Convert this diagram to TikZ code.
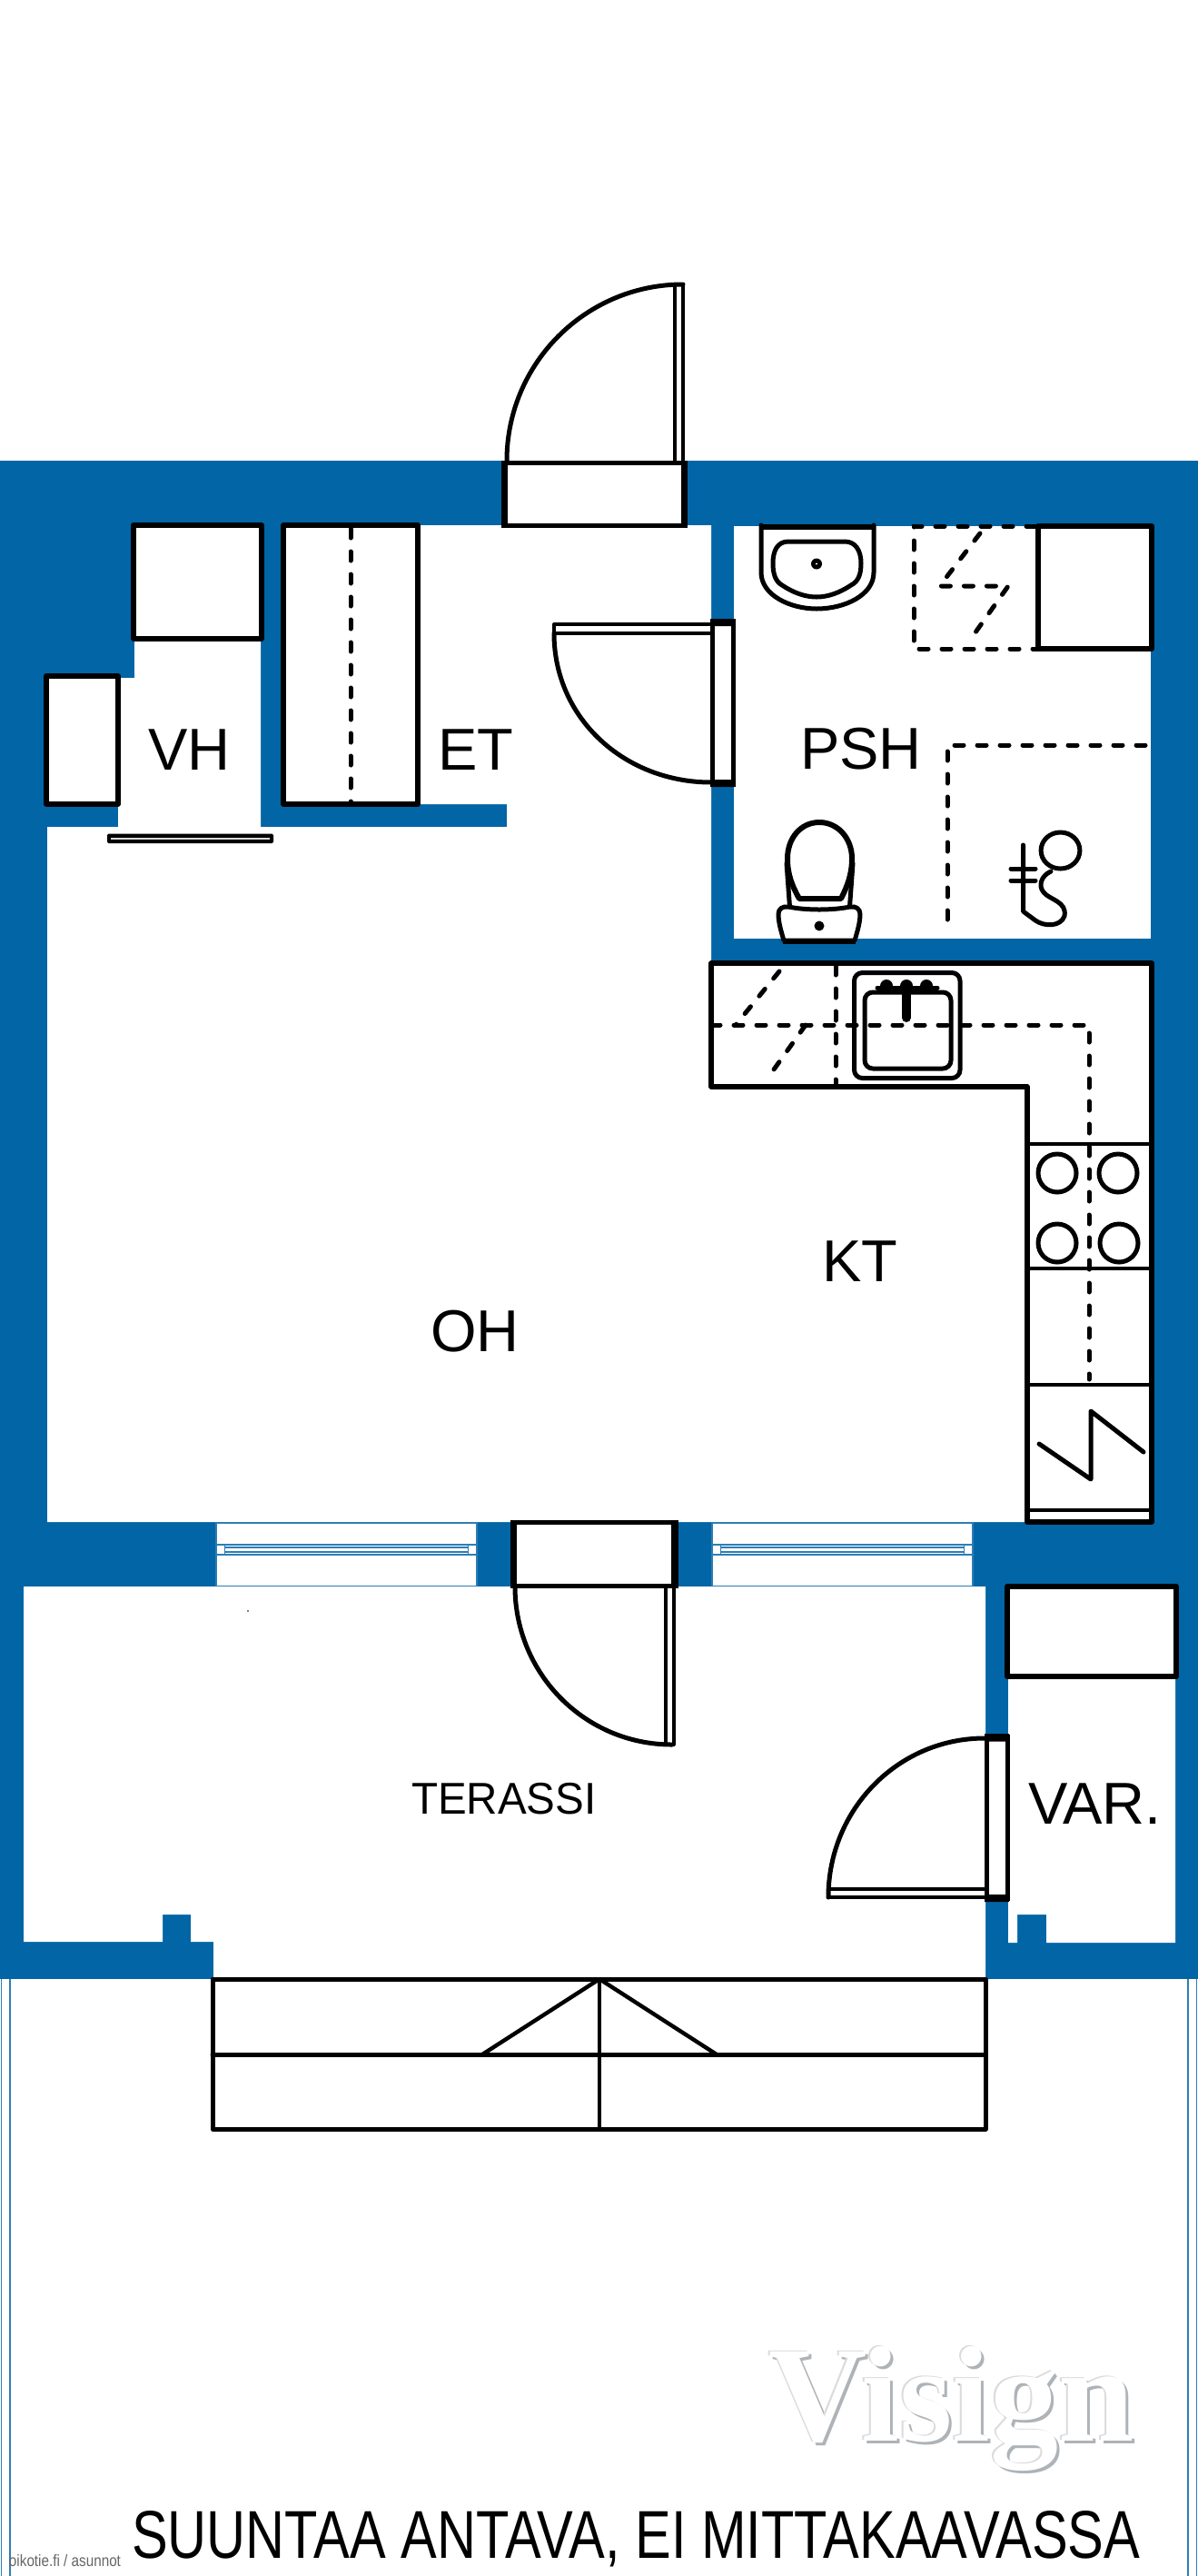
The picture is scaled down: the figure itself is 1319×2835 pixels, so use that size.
\documentclass[tikz,border=0pt]{standalone}
\usepackage{fontspec}
\usepackage{graphicx}
\setmainfont{Liberation Sans}
\newfontfamily\serifvis{Liberation Serif}
\definecolor{wallblue}{HTML}{0265A6}
\definecolor{thinblue}{HTML}{2E7DB5}
\definecolor{shadowgray}{HTML}{AEB3B8}
\tikzset{
  wallfill/.style={fill=wallblue,draw=none},
  room/.style={fill=white,draw=none},
  ln/.style={draw=black,line width=5pt,line cap=round,line join=round},
  lnthin/.style={draw=black,line width=4pt,line cap=round,line join=round},
  dsh/.style={draw=black,line width=5pt,line cap=round,dash pattern=on 10pt off 15pt},
  box/.style={draw=black,fill=white,line width=5.2pt,line join=round},
  jamb/.style={draw=black,line width=7.5pt},
  lbl/.style={anchor=base west,inner sep=0pt,outer sep=0pt,text=black},
  winline/.style={draw=thinblue,line width=1.3pt},
}
\newcommand{\roomfont}{\fontsize{65}{70}\selectfont}
\begin{document}
\begin{tikzpicture}[x=1pt,y=-1pt]
\useasboundingbox (0,0) rectangle (1319,2835);
\fill[white] (0,0) rectangle (1319,2835);
% walls
\path[wallfill] (0,507) rectangle (1319,2178);
% main room
\path[room] (460,578) -- (783,578) -- (783,1060) -- (1268,1060) -- (1268,1675) -- (52,1675) -- (52,910) -- (130,910) -- (130,746) -- (148,746) -- (148,578) -- (287,578) -- (287,910) -- (558,910) -- (558,885) -- (460,885) -- cycle;
% bathroom
\path[room] (808,579) rectangle (1267,1033);
% terrace
\path[room] (26,1746) -- (1085,1746) -- (1085,2178) -- (235,2178) -- (235,2137) -- (210,2137) -- (210,2107) -- (179,2107) -- (179,2137) -- (26,2137) -- cycle;
% storage
\path[room] (1110,1745) -- (1294,1745) -- (1294,2138) -- (1152,2138) -- (1152,2107) -- (1120,2107) -- (1120,2138) -- (1110,2138) -- cycle;
% thin outer lines
\draw[winline] (1.5,2178) -- (1.5,2835) (11,2178) -- (11,2835) (1308,2178) -- (1308,2835) (1317.5,2178) -- (1317.5,2835);
% windows
\foreach \xa/\xb in {238/525,784/1071}{
  \path[fill=white,draw=thinblue,line width=1.3pt] (\xa,1676) rectangle (\xb,1745.5);
  \draw[winline] (\xa,1700) -- (\xb,1700) (\xa,1711) -- (\xb,1711);
  \draw[winline] (\xa+9.5,1700) -- (\xa+9.5,1711) (\xb-9.5,1700) -- (\xb-9.5,1711);
  \draw[winline] (\xa+9.5,1703) -- (\xb-9.5,1703) (\xa+9.5,1708) -- (\xb-9.5,1708);
}
% closets
\path[box] (147,578) rectangle (288,703);
\path[box] (312,578) rectangle (460,885);
\draw[dsh] (386,582) -- (386,885);
\path[box] (51,744) rectangle (130,885);
% sliding door
\fill[black,rounded corners=1.5pt] (118,917.5) rectangle (301,928);
\draw[draw=black!15,line width=1.6pt] (122,922.8) -- (297,922.8);
% entry door
\path[room] (555,509) rectangle (754,578);
\draw[ln,line cap=butt] (552,509) -- (757,509) (552,578) -- (757,578);
\draw[jamb] (555.5,507) -- (555.5,580) (753.5,507) -- (753.5,580);
\draw[ln] (558,507) .. controls (558,400) and (645,313) .. (752,313);
\draw[lnthin] (743,313) -- (743,507);
\draw[lnthin] (752,313) -- (752,507);
% door to bathroom
\path[room] (784,681) rectangle (807,866);
\draw[ln,line cap=butt] (784,681) -- (784,866) (807,681) -- (807,866);
\fill[black] (782,681) rectangle (809,689) (782,858) rectangle (809,866);
\draw[ln] (610,697) .. controls (610,791) and (688,861) .. (783,861);
\draw[lnthin] (610,687) -- (783,687) (610,696.5) -- (783,696.5) (610,687) -- (610,697);
% bathroom fixtures
\draw[ln] (838,578) -- (838,630) .. controls (838,655) and (870,670) .. (899,670) .. controls (930,670) and (962,655) .. (962,630) -- (962,578);
\draw[ln,line width=5.5pt,line cap=butt] (836,580) -- (964,580);
\draw[ln] (868,596) -- (930,596) .. controls (942,596) and (948,606) .. (948,620) .. controls (948,632) and (945,640) .. (937,644) .. controls (925,652) and (912,657) .. (899,657) .. controls (886,657) and (873,652) .. (861,644) .. controls (854,640) and (851,632) .. (851,620) .. controls (851,606) and (856,596) .. (868,596) -- cycle;
\fill[black] (899,620.5) circle[radius=6];
\fill[white] (899,620.5) circle[radius=1.2];
% sauna-type fixture
\path[box] (1143,579) rectangle (1268,714);
\draw[dsh] (1140,579) -- (1006,579) -- (1006,714) -- (1143,714);
\draw[dsh] (1079,587) -- (1034.5,645) -- (1110,645) -- (1070,701.5);
% shower
\draw[dsh] (1261,820) -- (1043,820) -- (1043,1024);
\draw[ln] (1167.5,936) ellipse[x radius=21.4,y radius=20];
\draw[ln] (1126.5,930) -- (1126.5,1003) -- (1140,1013) .. controls (1150,1020) and (1168,1020) .. (1172,1008) .. controls (1175,992) and (1155,990) .. (1149,982) .. controls (1143,975) and (1146,964) .. (1157,959);
\draw[ln] (1113,956) -- (1140,956) (1113,969) -- (1140,969);
% toilet
\draw[ln,line width=6pt] (880,989) .. controls (872,975) and (867,962) .. (867,945) .. controls (867,922) and (882,905) .. (902,905) .. controls (922,905) and (938,922) .. (938,945) .. controls (938,962) and (933,975) .. (926,989) -- cycle;
\draw[ln] (866,950) -- (869.5,998) (939,950) -- (935.5,998);
\path[ln,fill=white] (863,1035) .. controls (860,1025) and (857,1015) .. (857,1006) .. controls (857,1000) and (862,997) .. (868,998) .. controls (888,1002) and (916,1002) .. (936,998) .. controls (942,997) and (947,1000) .. (947,1006) .. controls (947,1015) and (944,1025) .. (941,1035) -- cycle;
\draw[ln,line cap=butt] (862,1036) -- (942,1036);
\fill[black] (902,1019) circle[radius=5.5];
% kitchen counter
\draw[ln,line width=5.2pt] (783,1060) -- (1268,1060) -- (1268,1675) -- (1131,1675) -- (1131,1196) -- (783,1196) -- cycle;
\draw[ln,line width=4.6pt] (1131,1259) -- (1268,1259) (1131,1396) -- (1268,1396) (1131,1524) -- (1268,1524) (1131,1662) -- (1268,1662);
\draw[dsh] (783,1128) -- (1199,1128) -- (1199,1518);
\draw[dsh] (920,1063) -- (920,1196);
\draw[dsh] (858,1069) -- (810,1128) (887,1128) -- (847,1184);
% sink
\draw[ln,rounded corners=9pt] (940.5,1070.5) rectangle (1057,1186.5);
\draw[ln,rounded corners=9pt] (952,1092) rectangle (1047,1176);
\fill[black] (976,1085) circle[radius=7] (998,1085) circle[radius=7] (1020,1085) circle[radius=7];
\draw[black,line width=5pt,line cap=round] (966,1087) -- (1032,1087);
\draw[black,line width=10pt,line cap=round] (998,1088) -- (998,1120);
% burners
\foreach \cx/\cy in {1164/1291,1231/1291,1164/1368,1232/1368}{
  \draw[ln] (\cx,\cy) circle[radius=21];
}
% stove symbol
\draw[ln] (1144,1589) -- (1201,1628) -- (1201,1553) -- (1259,1598);
% terrace door
\path[room] (565,1677) rectangle (743,1744);
\draw[ln,line width=4.6pt,line cap=butt] (562,1675.5) -- (747,1675.5) (562,1745.5) -- (747,1745.5);
\draw[jamb] (565.5,1674) -- (565.5,1747) (743,1674) -- (743,1747);
\draw[ln] (567,1746) .. controls (567,1842) and (644,1920) .. (740,1920);
\draw[lnthin] (733,1746) -- (733,1920) (741.5,1746) -- (741.5,1920) (733,1920) -- (741.5,1920);
% storage door
\path[room] (1085,1910) rectangle (1110,2092);
\draw[ln,line cap=butt] (1086,1909) -- (1086,2092) (1109,1909) -- (1109,2092);
\fill[black] (1084,1908) rectangle (1111,1916.5) (1084,2085) rectangle (1111,2093);
\draw[ln] (1084,1913) .. controls (989,1913) and (912,1991) .. (912,2088);
\draw[ln,line width=4.2pt] (912,2079) -- (1084,2079) (912,2088) -- (1084,2088) (912,2079) -- (912,2088);
% storage box
\path[box] (1109,1746) rectangle (1295,1845);
% stairs
\draw[ln] (234,2178) rectangle (1085,2343);
\draw[ln] (234,2261) -- (1085,2261);
\draw[ln,line width=4.2pt] (660,2178) -- (660,2343);
\draw[ln,line width=4.4pt] (531,2261) -- (660,2178) -- (789,2261);
% speck
\fill[black] (273,1773) circle[radius=0.8];
% labels
\node[lbl] (vh) at (163,847) {\roomfont VH};
\node[lbl] (et) at (482,847) {\roomfont ET};
\node[lbl] (psh) at (881,846.5) {\roomfont PSH};
\node[lbl] (kt) at (905,1410) {\roomfont KT};
\node[lbl] (oh) at (474,1487) {\roomfont OH};
\node[lbl] (var) at (1132,2007) {\roomfont VAR.};
\node[lbl] (terassi) at (453,1996) {\scalebox{0.97}[1]{\fontsize{49}{54}\selectfont TERASSI}};
\node[lbl] (note) at (145,2815) {\resizebox{1110pt}{52pt}{SUUNTAA ANTAVA, EI MITTAKAAVASSA}};
\node[lbl,text=black!60] (credit) at (10,2824) {\resizebox{123pt}{13pt}{oikotie.fi / asunnot}};
% watermark
\node[lbl,text=shadowgray] (visignb) at (849,2689) {\fontsize{150}{152}\selectfont\serifvis\bfseries Visign};
\node[lbl,text=black!14] (visignc) at (844,2685) {\fontsize{150}{152}\selectfont\serifvis\bfseries Visign};
\node[lbl,text=white] (visign) at (846,2686.5) {\fontsize{150}{152}\selectfont\serifvis\bfseries Visign};
\end{tikzpicture}
\end{document}
